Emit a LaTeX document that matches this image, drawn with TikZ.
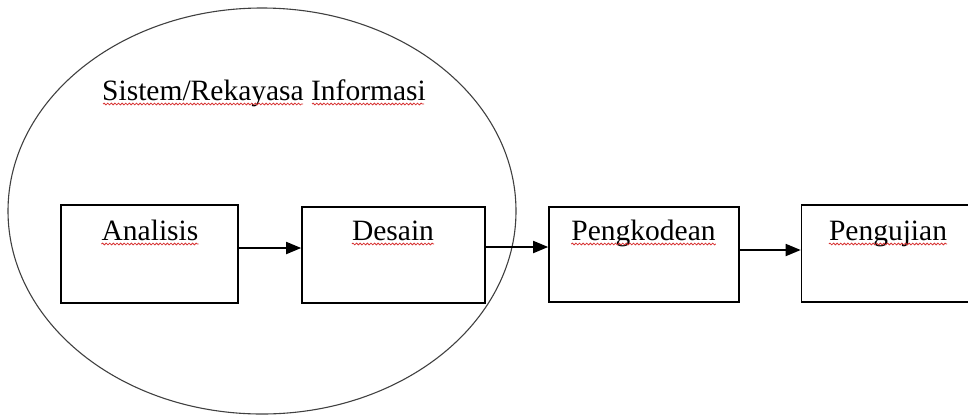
\documentclass[tikz,border=0pt]{standalone}
\usepackage{fontspec}
\setmainfont{Liberation Serif}
\usetikzlibrary{arrows.meta,decorations.pathmorphing,shapes.geometric}
\definecolor{squigred}{RGB}{215,50,50}
\begin{document}
\begin{tikzpicture}[x=1pt,y=-1pt,
  stagebox/.style={draw, line width=1.6pt, inner sep=0pt},
  lbl/.style={font=\fontsize{29.5}{32}\selectfont, inner sep=0pt, anchor=base},
  squig/.style={draw=squigred, line width=0.8pt, decorate,
    decoration={snake, amplitude=0.9pt, segment length=3.6pt}},
  arr/.style={-{Triangle[length=15pt,width=12pt]}, line width=1.8pt}]
\useasboundingbox (0,0) rectangle (968,416);
\node[draw=black!75, line width=1.1pt, ellipse, minimum width=508pt, minimum height=406pt, inner sep=0pt] (sys) at (262,211) {};
\node[stagebox, minimum width=177pt, minimum height=98pt] (A) at (149.5,254) {};
\node[stagebox, minimum width=183pt, minimum height=96pt] (D) at (393.5,255) {};
\node[stagebox, minimum width=190pt, minimum height=95pt] (P) at (644,254.5) {};
\node[stagebox, minimum width=173pt, minimum height=97pt] (U) at (888,253.5) {};
\node[lbl] (title) at (264,100) {Sistem/Rekayasa Informasi};
\node[lbl] (tA) at (150,240) {Analisis};
\node[lbl] (tD) at (393,240) {Desain};
\node[lbl] (tP) at (643.5,240) {Pengkodean};
\node[lbl] (tU) at (888,240) {Pengujian};
\draw[arr] ([yshift=6pt]A.east) -- ([yshift=7pt]D.west);
\draw[arr] ([yshift=8pt]D.east) -- ([yshift=7.5pt]P.west);
\draw[arr] ([yshift=4.5pt]P.east) -- ([yshift=3.5pt]U.west);
% spell-check squiggles
\draw[squig] (103,104) -- (303,104);
\draw[squig] (312,104) -- (424,104);
\draw[squig] ([yshift=-4pt]tA.base west) -- ([yshift=-4pt]tA.base east);
\draw[squig] ([yshift=-4pt]tD.base west) -- ([yshift=-4pt]tD.base east);
\draw[squig] ([yshift=-4pt]tP.base west) -- ([yshift=-4pt]tP.base east);
\draw[squig] ([yshift=-4pt]tU.base west) -- ([yshift=-4pt]tU.base east);
\end{tikzpicture}
\end{document}
